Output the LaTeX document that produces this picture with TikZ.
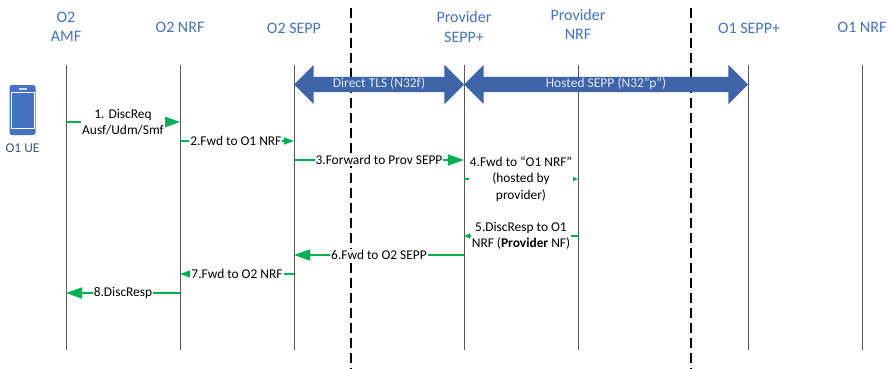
\documentclass[tikz,border=0pt]{standalone}
\usepackage{fontspec}
\setmainfont{Carlito}
\usepackage{xcolor}
\usetikzlibrary{arrows.meta,positioning,shapes.arrows}
\definecolor{headBlue}{HTML}{4472C4}
\definecolor{msgGreen}{HTML}{00B050}
\definecolor{tunnelBlue}{HTML}{3E64AA}
\definecolor{lifeGrey}{HTML}{595959}
\definecolor{ueSlate}{HTML}{44546A}
\tikzset{
	hidden/.style={inner sep=0,minimum size=0},
	head/.style={hidden,text=headBlue,font=\fontsize{16}{19}\selectfont,align=center},
	life/.style={lifeGrey,line width=0.9pt},
	border/.style={black,line width=1.05pt,dash pattern=on 10pt off 5pt},
	tunnel/.style={double arrow,draw=none,fill=tunnelBlue,text=white!85!tunnelBlue,inner sep=0,minimum width=15pt,double arrow head extend=12pt,double arrow head indent=0pt,double arrow tip angle=90,text height=10pt,text depth=5pt,font=\fontsize{13.5}{14}\selectfont},
	msg/.style={msgGreen,line width=1.5pt},
	bigTip/.style={msg,-{Triangle[length=16pt,width=11pt]}},
	midTip/.style={msg,-{Triangle[length=10pt,width=7pt]}},
	smallTip/.style={msg,-{Triangle[length=6pt,width=5pt]}},
	lbl/.style={fill=white,text=black,inner sep=1pt,align=center,font=\fontsize{13.4}{16.3}\selectfont}
}
\begin{document}
\begin{tikzpicture}[x=1pt,y=-1pt,node distance=114pt]
		\useasboundingbox (0,0) rectangle (888,369);
		\node[hidden] (amf) at (66,65) {};							% top of each lifeline
		\node[hidden,right of=amf] (nrf2) {};
		\node[hidden,right of=nrf2] (sepp2) {};
		\node[hidden,right of=sepp2,node distance=170pt] (prov) {};
		\node[hidden,right of=prov] (pnrf) {};
		\node[hidden,right of=pnrf,node distance=170pt] (sepp1) {};
		\node[hidden,right of=sepp1] (nrf1) {};
		\node[hidden,below of=amf,node distance=285pt] (amf-e) {};		% bottom of each lifeline
		\node[hidden,below of=nrf2,node distance=285pt] (nrf2-e) {};
		\node[hidden,below of=sepp2,node distance=285pt] (sepp2-e) {};
		\node[hidden,below of=prov,node distance=285pt] (prov-e) {};
		\node[hidden,below of=pnrf,node distance=285pt] (pnrf-e) {};
		\node[hidden,below of=sepp1,node distance=285pt] (sepp1-e) {};
		\node[hidden,below of=nrf1,node distance=285pt] (nrf1-e) {};
		
		\node[head,above of=amf,node distance=38pt] (amf-h) {O2\\AMF};
		\node[head,above of=nrf2,node distance=38pt] (nrf2-h) {O2 NRF};
		\node[head,above of=sepp2,node distance=37pt] (sepp2-h) {O2 SEPP};
		\node[head,above of=prov,node distance=38pt] (prov-h) {Provider\\SEPP+};
		\node[head,above of=pnrf,node distance=41pt] (pnrf-h) {Provider\\NRF};
		\node[head,above of=sepp1,node distance=37pt,xshift=1pt] (sepp1-h) {O1 SEPP+};
		\node[head,above of=nrf1,node distance=38pt] (nrf1-h) {O1 NRF};
		
		% trust borders
		\node[hidden] (b1-t) at (351,8) {};
		\node[hidden] (b1-e) at (351,369) {};
		\node[hidden] (b2-t) at (691,8) {};
		\node[hidden] (b2-e) at (691,369) {};
		\draw[border] (b1-t) -- (b1-e);
		\draw[border] (b2-t) -- (b2-e);
		
		\draw[life] (amf) -- (amf-e);
		\draw[life] (nrf2) -- (nrf2-e);
		\draw[life] (sepp2) -- (sepp2-e);
		\draw[life] (prov) -- (prov-e);
		\draw[life] (pnrf) -- (pnrf-e);
		\draw[life] (sepp1) -- (sepp1-e);
		\draw[life] (nrf1) -- (nrf1-e);
		
		% tunnels
		\node[tunnel,minimum height=170pt] (tls) at (379,84.5) {Direct TLS (N32f)};
		\node[tunnel,minimum height=284pt] (hosted) at (606,84.5) {Hosted SEPP (N32"p”)};
		
		% phone
		\node[fill=headBlue,rounded corners=2.5pt,minimum width=26pt,minimum height=50pt,inner sep=0] (ue) at (22.5,110) {};
		\node[draw=white,line width=0.8pt,minimum width=23pt,minimum height=36pt,inner sep=0] (screen) at (22.5,110) {};
		\node[fill=white!75!headBlue,minimum width=8pt,minimum height=1.5pt,inner sep=0,above of=screen,node distance=21pt] (speaker) {};
		\node[text=white,inner sep=0,font=\fontsize{5}{5}\selectfont,below of=screen,node distance=20.5pt] (ue-dots) {$\cdot\!\cdot\!\cdot$};
		\node[hidden,text=ueSlate,font=\fontsize{13.4}{16}\selectfont,below of=ue,node distance=38pt] (ue-l) {O1 UE};
		
		% message levels
		\coordinate (m1) at (0,122);
		\coordinate (m2) at (0,141);
		\coordinate (m3) at (0,160);
		\coordinate (m4) at (0,179);
		\coordinate (m5) at (0,236);
		\coordinate (m6) at (0,255);
		\coordinate (m7) at (0,274);
		\coordinate (m8) at (0,293);
		
		\draw[bigTip] (amf |- m1) to node [lbl,pos=0.5] {1. DiscReq\\Ausf/Udm/Smf} (nrf2 |- m1);
		\draw[midTip] (nrf2 |- m2) to node [lbl,pos=0.49] {2.Fwd to O1 NRF} (sepp2 |- m2);
		\draw[bigTip] (sepp2 |- m3) to node [lbl,pos=0.5] {3.Forward to Prov SEPP} (prov |- m3);
		\draw[smallTip] (prov |- m4) to node [lbl,pos=0.5] {4.Fwd to “O1 NRF”\\(hosted by\\provider)} (pnrf |- m4);
		\draw[smallTip] (pnrf |- m5) to node [lbl,pos=0.5] {5.DiscResp to O1\\NRF (\textbf{Provider} NF)} (prov |- m5);
		\draw[bigTip] (prov |- m6) to node [lbl,pos=0.5] {6.Fwd to O2 SEPP} (sepp2 |- m6);
		\draw[midTip] (sepp2 |- m7) to node [lbl,pos=0.5] {7.Fwd to O2 NRF} (nrf2 |- m7);
		\draw[bigTip] (nrf2 |- m8) to node [lbl,pos=0.5] {8.DiscResp} (amf |- m8);
		\end{tikzpicture}
\end{document}
